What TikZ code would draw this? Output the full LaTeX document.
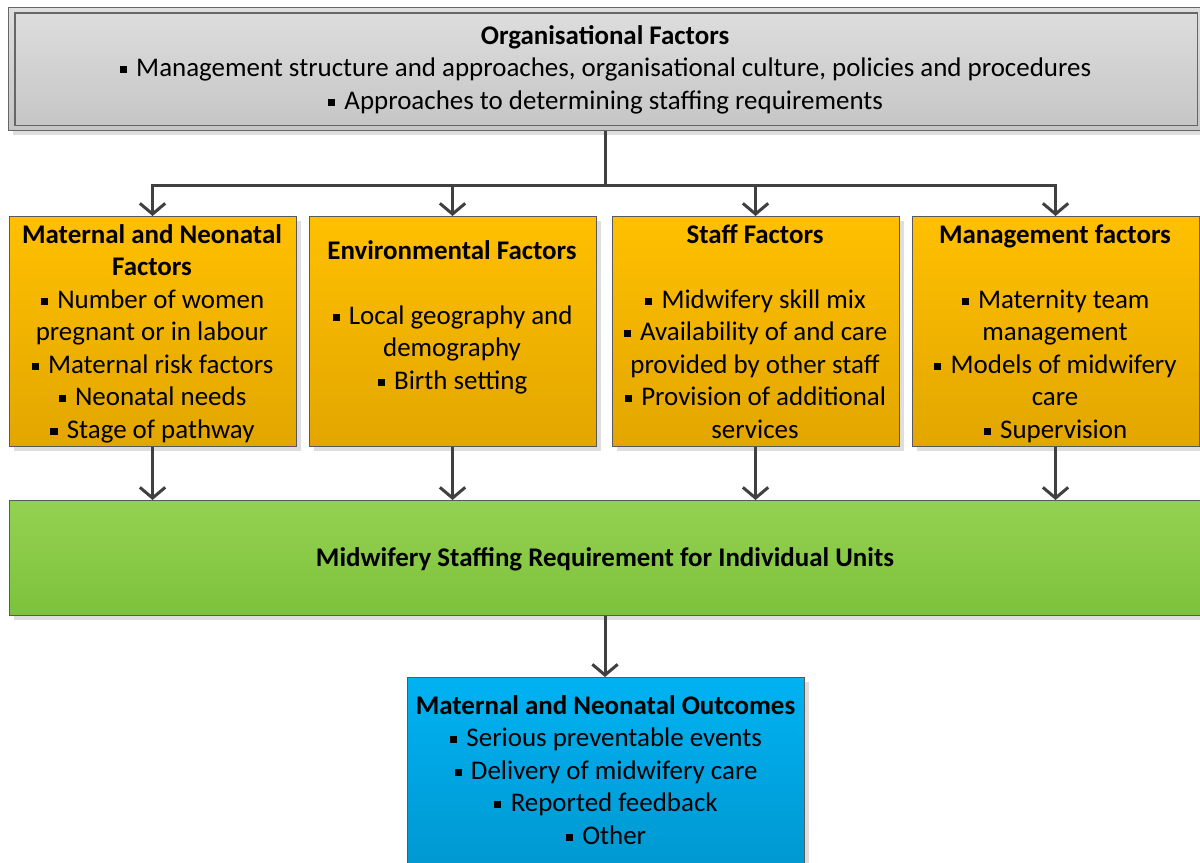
\documentclass[tikz,border=0pt]{standalone}
\usepackage{fontspec}
\setmainfont{Carlito}
\usetikzlibrary{arrows.meta,shadows}

% small square bullet
\newcommand\bul{\hspace{0.04em}\raisebox{0.14em}{\rule{0.26em}{0.26em}}\hspace{0.12em} }

\definecolor{linec}{HTML}{404040}
\definecolor{edgec}{HTML}{595959}
\definecolor{grayT}{HTML}{DEDEDE}
\definecolor{grayB}{HTML}{C5C5C5}
\definecolor{orT}{HTML}{FFC000}
\definecolor{orB}{HTML}{E2A600}
\definecolor{grT}{HTML}{94D152}
\definecolor{grB}{HTML}{7DC23B}
\definecolor{blT}{HTML}{00B2F2}
\definecolor{blB}{HTML}{0094CC}

\tikzset{
  % anchor=base sits on the last line of a multi-line node
  txt/.style={font=\fontsize{20.2pt}{24.4pt}\selectfont, align=center, anchor=base, inner sep=0pt},
  shade box/.style={draw=edgec, line width=0.8pt, rectangle, anchor=north west, inner sep=0pt,
    drop shadow={shadow xshift=3.6pt, shadow yshift=-3.6pt, fill=black!13, opacity=1}},
  orgbox/.style={shade box, draw=gray!80!black, top color=grayT, bottom color=grayB},
  factorbox/.style={shade box, top color=orT, bottom color=orB,
    minimum width=215.25pt, minimum height=172.5pt},
  reqbox/.style={shade box, top color=grT, bottom color=grB},
  outbox/.style={shade box, top color=blT, bottom color=blB},
  link/.style={draw=linec, line width=2.25pt},
  arr/.style={link, -{Straight Barb[length=8pt, width=19pt]}},
}

\begin{document}
\begin{tikzpicture}[x=0.75pt, y=-0.75pt]
\useasboundingbox (0,0) rectangle (1200,863);

% organisational factors (double frame)
\node[orgbox, minimum width=896.25pt, minimum height=92.25pt] (org) at (8,7) {};
\draw[draw=gray!80!black, line width=0.8pt]
  ([shift={(7,6)}]org.north west) rectangle ([shift={(-7,-6)}]org.south east);
\node[txt] (orgtxt) at (605,109.5) {\textbf{Organisational Factors}\\
  \bul Management structure and approaches, organisational culture, policies and procedures\\
  \bul Approaches to determining staffing requirements};

% factor boxes
\node[factorbox] (b1) at (8.5,216) {};
\node[factorbox] (b2) at (308.5,216) {};
\node[factorbox] (b3) at (611.5,216) {};
\node[factorbox] (b4) at (911.5,216) {};

\node[txt] (t1) at (152,438.5) {\textbf{Maternal and Neonatal}\\\textbf{Factors}\\
  \bul Number of women\\pregnant or in labour\\\bul Maternal risk factors\\
  \bul Neonatal needs\\\bul Stage of pathway};
\node[txt] (t2) at (452,389.5) {\textbf{Environmental Factors}\\[24.4pt]
  \bul Local geography and\\demography\\\bul Birth setting};
\node[txt] (t3) at (755,438.5) {\textbf{Staff Factors}\\[24.4pt]
  \bul Midwifery skill mix\\\bul Availability of and care\\provided by other staff\\
  \bul Provision of additional\\services};
\node[txt] (t4) at (1055,438.5) {\textbf{Management factors}\\[24.4pt]
  \bul Maternity team\\management\\\bul Models of midwifery\\care\\\bul Supervision};

% staffing requirement
\node[reqbox, minimum width=894pt, minimum height=86.25pt] (req) at (9,500) {};
\node[txt] (reqtxt) at (605,566.5) {\textbf{Midwifery Staffing Requirement for Individual Units}};

% outcomes
\node[outbox, minimum width=297.75pt, minimum height=165pt] (out) at (407,677) {};
\node[txt] (outtxt) at (605.5,844.5) {\textbf{Maternal and Neonatal Outcomes}\\
  \bul Serious preventable events\\\bul Delivery of midwifery care\\
  \bul Reported feedback\\\bul Other};

% connectors
\coordinate (j) at (605,186);
\draw[link] (org.south -| j) -- (j);
\draw[arr] (j) -| (b1.north);
\draw[arr] (j) -| (b2.north);
\draw[arr] (j) -| (b3.north);
\draw[arr] (j) -| (b4.north);
\foreach \b in {b1,b2,b3,b4}
  \draw[arr] (\b.south) -- (\b.south |- req.north);
\draw[arr] (req.south -| j) -- (out.north -| j);
\end{tikzpicture}
\end{document}
